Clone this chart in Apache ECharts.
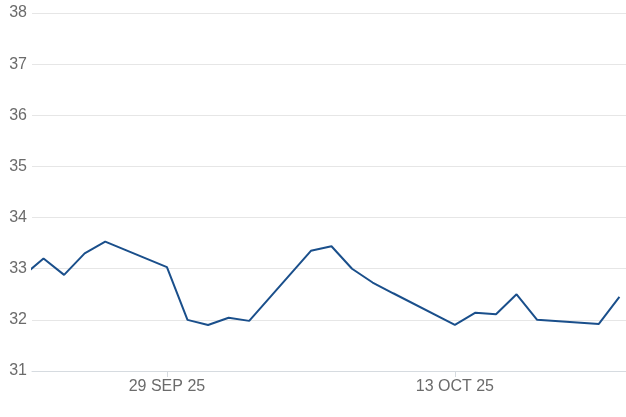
<!DOCTYPE html>
<html><head><meta charset="utf-8">
<script src="https://cdn.jsdelivr.net/npm/echarts@6/dist/echarts.min.js"></script>
<style>html,body{margin:0;padding:0;background:#fff}#c{width:626px;height:417px}</style>
</head><body><div id="c"></div>
<script>
const dates = ['2025-09-22','2025-09-23','2025-09-24','2025-09-25','2025-09-26','2025-09-29','2025-09-30','2025-10-01','2025-10-02','2025-10-03','2025-10-06','2025-10-07','2025-10-08','2025-10-09','2025-10-10','2025-10-13','2025-10-14','2025-10-15','2025-10-16','2025-10-17','2025-10-20','2025-10-21'];
const values = [32.86,33.20,32.88,33.30,33.53,33.03,32.00,31.90,32.04,31.98,33.35,33.44,33.00,32.73,32.52,31.90,32.14,32.11,32.50,32.00,31.92,32.45];
const tickDates = ['2025-09-29','2025-10-13'];
const tickLabels = ['29 SEP 25','13 OCT 25'];
const yTicks = [31,32,33,34,35,36,37,38];

const base = Date.UTC(2025,8,22);
const dayIdx = s => { const p = s.split('-').map(Number); return (Date.UTC(p[0],p[1]-1,p[2]) - base)/86400000; };
const data = dates.map((d,i)=>[dayIdx(d), values[i]]);
const tickPos = tickDates.map(dayIdx);
const labelMap = {}; tickPos.forEach((p,i)=>labelMap[p]=tickLabels[i]);

const chart = echarts.init(document.getElementById('c'));
chart.setOption({
  animation:false,
  grid:{left:32,right:0,top:13,bottom:46,containLabel:false},
  xAxis:{type:'value',min:0.44,max:29.32,
    axisLine:{show:true,lineStyle:{color:'#d6dbe0',width:1}},
    axisTick:{show:true,customValues:tickPos,length:6,lineStyle:{color:'#d6dbe0'}},
    axisLabel:{customValues:tickPos,formatter:v=>labelMap[v]||'',color:'#6b6b6b',fontSize:16,fontFamily:'Liberation Sans, Arial, sans-serif',margin:8},
    splitLine:{show:false}},
  yAxis:{type:'value',min:yTicks[0],max:yTicks[yTicks.length-1],interval:1,
    axisLine:{show:false},axisTick:{show:false},
    axisLabel:{color:'#6b6b6b',fontSize:16,fontFamily:'Liberation Sans, Arial, sans-serif',margin:5},
    splitLine:{lineStyle:{color:'#e6e6e6',width:1}}},
  series:[{type:'line',data:data,showSymbol:false,clip:true,
    lineStyle:{color:'#1a4f8b',width:2},itemStyle:{color:'#1a4f8b'}}]
});
</script></body></html>
